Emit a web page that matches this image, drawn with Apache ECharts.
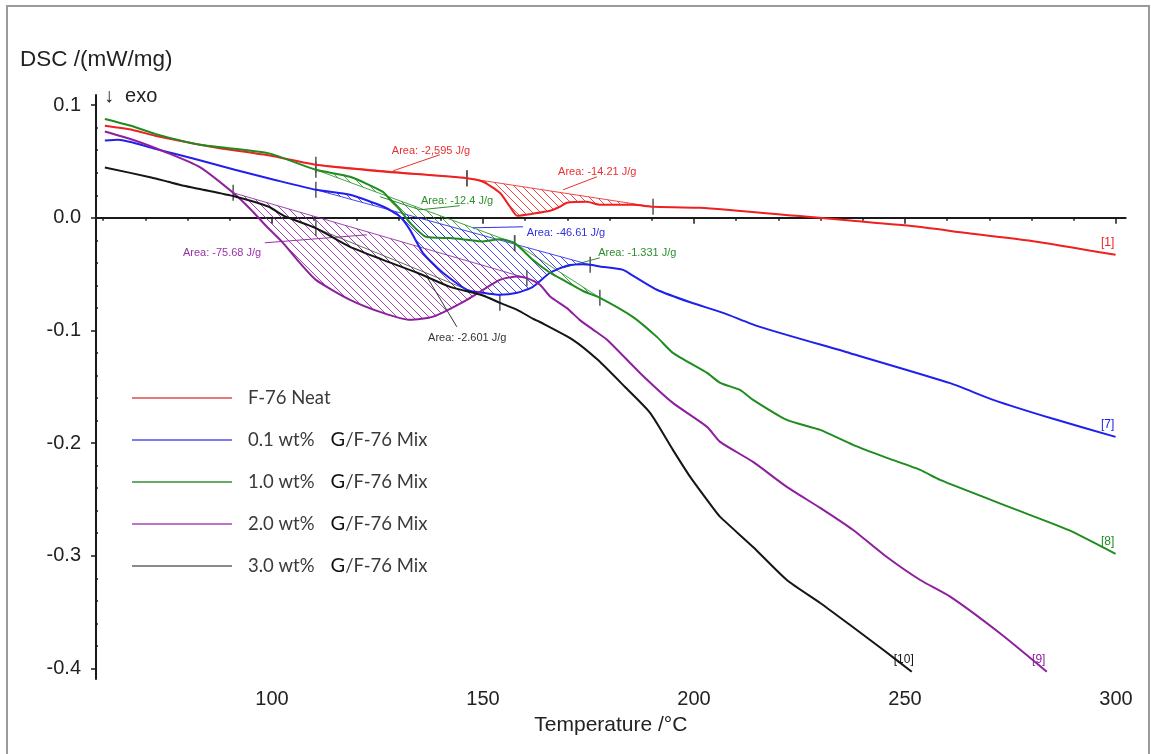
<!DOCTYPE html>
<html><head><meta charset="utf-8">
<script src="https://cdn.jsdelivr.net/npm/echarts@6/dist/echarts.min.js"></script>
<style>html,body{margin:0;padding:0;background:#fff}#c{width:1151px;height:754px}</style>
</head><body><div id="c"></div>
<script>
// ---------------- data ----------------
const seriesNames = ['F-76 Neat', '0.1 wt% G/F-76 Mix', '1.0 wt% G/F-76 Mix', '2.0 wt% G/F-76 Mix', '3.0 wt% G/F-76 Mix'];
const curveTags = ['[1]', '[7]', '[8]', '[9]', '[10]'];

const neatT = [60.4, 67.0, 72.3, 82.9, 87.3, 99.1, 110.4, 126.3, 146.2, 150.0, 154.0, 156.4, 158.1, 161.8, 165.9, 168.2, 169.9, 174.6, 177.7, 185.5, 190.3, 201.4, 225.0, 237.0, 252.8, 264.7, 280.0, 299.9];
const neatV = [0.0817, 0.078, 0.0728, 0.0648, 0.0619, 0.0555, 0.0471, 0.0411, 0.0352, 0.032, 0.0222, 0.0098, 0.0018, 0.0036, 0.0062, 0.0098, 0.0133, 0.0142, 0.0115, 0.0115, 0.0098, 0.0089, 0.0015, -0.0024, -0.0077, -0.0136, -0.0205, -0.0329];

const mix01T = [60.4, 63.6, 72.3, 82.0, 91.2, 100.5, 110.4, 118.5, 126.3, 130.3, 132.7, 135.8, 140.5, 146.2, 150.0, 154.0, 158.1, 161.8, 165.9, 169.9, 173.7, 175.4, 177.7, 183.2, 185.5, 191.2, 199.1, 206.9, 215.6, 237.0, 260.7, 270.9, 284.7, 299.9];
const mix01V = [0.0687, 0.0693, 0.0612, 0.052, 0.0426, 0.0338, 0.0249, 0.0204, 0.01, 0.0012, -0.0107, -0.0313, -0.0488, -0.0639, -0.0666, -0.0684, -0.0666, -0.0613, -0.0488, -0.0425, -0.0412, -0.0417, -0.0432, -0.0462, -0.0513, -0.0639, -0.075, -0.0844, -0.0968, -0.1202, -0.1468, -0.1616, -0.178, -0.1945];

const mix10T = [60.4, 67.0, 72.3, 83.0, 99.1, 110.4, 118.5, 126.3, 128.0, 130.3, 132.7, 136.5, 142.2, 146.2, 150.0, 154.0, 157.5, 161.8, 165.9, 169.9, 173.7, 177.7, 185.5, 191.2, 195.0, 203.1, 206.2, 210.9, 214.0, 222.0, 229.9, 237.7, 245.7, 253.6, 258.3, 276.5, 288.7, 299.9];
const mix10V = [0.0877, 0.0812, 0.0745, 0.0648, 0.0574, 0.0426, 0.0364, 0.0231, 0.016, 0.0071, -0.0044, -0.0169, -0.018, -0.0195, -0.021, -0.019, -0.0225, -0.0373, -0.0488, -0.057, -0.065, -0.071, -0.0879, -0.1057, -0.1199, -0.1377, -0.1465, -0.1528, -0.1616, -0.1794, -0.1883, -0.2016, -0.2131, -0.2238, -0.2327, -0.2593, -0.2771, -0.2984];

const mix20T = [60.4, 67.0, 75.0, 82.9, 90.8, 94.8, 98.8, 102.6, 106.6, 110.4, 118.5, 126.3, 132.7, 138.2, 146.2, 154.0, 158.1, 160.4, 163.5, 165.9, 169.9, 172.9, 176.0, 179.4, 187.2, 195.0, 203.1, 206.2, 214.0, 222.0, 229.9, 237.7, 245.7, 253.6, 260.7, 272.5, 283.6];
const mix20V = [0.0766, 0.0693, 0.058, 0.045, 0.0222, 0.008, -0.008, -0.0222, -0.04, -0.0551, -0.0728, -0.0844, -0.0906, -0.0877, -0.0728, -0.0551, -0.0521, -0.0536, -0.0595, -0.0699, -0.0802, -0.0906, -0.099, -0.1083, -0.1377, -0.1643, -0.1856, -0.1989, -0.2167, -0.2389, -0.2575, -0.2771, -0.3011, -0.3215, -0.3363, -0.3688, -0.4029];

const mix30T = [60.4, 71.4, 75.4, 79.1, 82.9, 91.2, 99.1, 103.1, 110.4, 118.5, 126.3, 134.4, 142.2, 150.0, 154.0, 158.1, 161.8, 163.5, 171.3, 177.2, 183.6, 189.6, 195.0, 199.1, 204.5, 206.2, 214.0, 222.0, 229.9, 237.0, 244.9, 251.6];
const mix30V = [0.0447, 0.0358, 0.032, 0.0285, 0.0255, 0.0189, 0.01, 0.0012, -0.0092, -0.0258, -0.0373, -0.0488, -0.0613, -0.069, -0.0755, -0.0817, -0.0895, -0.0925, -0.1083, -0.1261, -0.15, -0.1732, -0.206, -0.23, -0.2575, -0.2655, -0.2922, -0.3215, -0.3419, -0.3615, -0.3837, -0.4029];

// peak integration annotations
const areaCurve = [0, 0, 2, 2, 1, 3, 4];
const areaFrom = [110.4, 146.2, 110.4, 157.5, 110.4, 90.8, 110.4];
const areaTo = [146.2, 190.3, 157.5, 177.7, 175.4, 160.4, 154.0];
const areaText = ['Area: -2,595 J/g', 'Area: -14.21 J/g', 'Area: -12.4 J/g', 'Area: -1.331 J/g', 'Area: -46.61 J/g', 'Area: -75.68 J/g', 'Area: -2.601 J/g'];
const areaTextT = [128.4, 167.8, 135.3, 177.3, 160.4, 78.9, 137.0];
const areaTextV = [0.0595, 0.0409, 0.0151, -0.0311, -0.0133, -0.0311, -0.1066];
const areaLeaderT = [[128.7, 139.8], [169.0, 177.0], [125.6, 135.1, 144.5], [169.0, 177.7], [147.6, 159.5], [98.3, 122.5], [136.7, 143.8]];
const areaLeaderV = [[0.0417, 0.056], [0.0249, 0.0364], [0.0187, 0.0071, 0.0107], [-0.0444, -0.0355], [-0.0089, -0.008], [-0.0222, -0.0151], [-0.0524, -0.0968]];

// axis ticks
const xTickLabels = [100, 150, 200, 250, 300];
const xMinorTicks = [60, 70, 80, 90, 110, 120, 130, 140, 160, 170, 180, 190, 210, 220, 230, 240, 260, 270, 280, 290];
const yTickLabels = [-0.4, -0.3, -0.2, -0.1, 0.0, 0.1];
const yMinorTicks = [-0.38, -0.36, -0.34, -0.32, -0.28, -0.26, -0.24, -0.22, -0.18, -0.16, -0.14, -0.12, -0.08, -0.06, -0.04, -0.02, 0.02, 0.04, 0.06, 0.08];

// ---------------- styling ----------------
const curveT = [neatT, mix01T, mix10T, mix20T, mix30T];
const curveV = [neatV, mix01V, mix10V, mix20V, mix30V];
const colors = ['#ee2020', '#2020ee', '#1e8c1e', '#8e1f9e', '#151515'];
const legendColors = ['#e87878', '#7d7df0', '#6aa86a', '#bd72cc', '#8a8a8a'];
const hatchColors = ['rgba(235,40,40,0.85)', 'rgba(40,40,235,0.85)', 'rgba(30,140,30,0.8)', 'rgba(140,40,160,0.85)', 'rgba(70,70,70,0.8)'];
const labelColors = ['#e83030', '#3030e0', '#2a8f2a', '#9a30aa', '#333333'];
const FONT = '"Liberation Sans", Arial, sans-serif';

function hatch(color) {
  const c = document.createElement('canvas');
  c.width = 8; c.height = 8;
  const g = c.getContext('2d');
  g.strokeStyle = color; g.lineWidth = 1;
  g.beginPath();
  g.moveTo(0, 0); g.lineTo(8, 8);
  g.moveTo(-2, 6); g.lineTo(2, 10);
  g.moveTo(6, -2); g.lineTo(10, 2);
  g.stroke();
  return c;
}
const hatchCanvas = hatchColors.map(hatch);

const lineSeries = seriesNames.map((name, s) => ({
  name: name,
  type: 'line',
  xAxisIndex: 0, yAxisIndex: 0,
  data: curveT[s].map((t, k) => [t, curveV[s][k]]),
  showSymbol: false,
  smooth: 0.2,
  z: 3,
  lineStyle: { color: colors[s], width: 2 },
  itemStyle: { color: colors[s] },
  markPoint: {
    symbol: 'circle', symbolSize: 0, silent: true,
    label: { show: true, position: 'top', distance: 2, offset: [-8, -4], color: colors[s], fontSize: 12, fontFamily: FONT, formatter: curveTags[s] },
    data: [{ coord: [curveT[s][curveT[s].length - 1], curveV[s][curveV[s].length - 1]] }]
  }
}));

const areaSeries = {
  type: 'custom',
  xAxisIndex: 0, yAxisIndex: 0,
  z: 2,
  silent: true,
  data: areaFrom.map((f, i) => [f, curveV[areaCurve[i]][curveT[areaCurve[i]].indexOf(f)]]),
  encode: { x: 0, y: 1 },
  renderItem: function (params, api) {
    const i = params.dataIndex;
    const c = areaCurve[i];
    const T = curveT[c], V = curveV[c];
    const pts = [];
    for (let k = 0; k < T.length; k++) {
      if (T[k] >= areaFrom[i] - 1e-6 && T[k] <= areaTo[i] + 1e-6) pts.push(api.coord([T[k], V[k]]));
    }
    const a = pts[0], b = pts[pts.length - 1];
    const children = [
      { type: 'polygon', shape: { points: pts }, style: { fill: { image: hatchCanvas[c], repeat: 'repeat' }, stroke: null } },
      { type: 'line', shape: { x1: a[0], y1: a[1], x2: b[0], y2: b[1] }, style: { stroke: hatchColors[c], lineWidth: 1 } },
      { type: 'line', shape: { x1: a[0], y1: a[1] - 8, x2: a[0], y2: a[1] + 8 }, style: { stroke: '#555', lineWidth: 1.5 } },
      { type: 'line', shape: { x1: b[0], y1: b[1] - 8, x2: b[0], y2: b[1] + 8 }, style: { stroke: '#555', lineWidth: 1.5 } }
    ];
    const lp = areaLeaderT[i].map((t, k) => api.coord([t, areaLeaderV[i][k]]));
    children.push({ type: 'polyline', shape: { points: lp }, style: { stroke: labelColors[c], lineWidth: 1, fill: null } });
    const tp = api.coord([areaTextT[i], areaTextV[i]]);
    children.push({ type: 'text', x: tp[0], y: tp[1], style: { text: areaText[i], fill: labelColors[c], fontSize: 11, fontFamily: FONT, align: 'left', verticalAlign: 'middle' } });
    return { type: 'group', children: children };
  }
};

function legendFmt(name) {
  const i = name.indexOf('G/');
  if (i < 0) return '{s|}{t|' + name + '}';
  return '{s|}{t|' + name.slice(0, i).trim() + '}{sp|}{g|G}{t|' + name.slice(i + 1) + '}';
}

const xBase = { type: 'value', min: 58.3, max: 302.3, gridIndex: 0, position: 'bottom', splitLine: { show: false } };
const yBase = { type: 'value', min: -0.4094, max: 0.109, gridIndex: 0, position: 'left', splitLine: { show: false } };

const option = {
  backgroundColor: '#ffffff',
  animation: false,
  grid: { left: 96, right: 25.3, top: 95, bottom: 75, containLabel: false },
  xAxis: [
    Object.assign({}, xBase, {
      name: 'Temperature /°C', nameLocation: 'middle', nameGap: 36,
      nameTextStyle: { fontSize: 21, fontFamily: FONT, color: '#222' },
      axisLine: { show: true, lineStyle: { color: '#1a1a1a', width: 2 } },
      axisTick: { show: true, length: 6, customValues: xTickLabels, lineStyle: { color: '#1a1a1a', width: 1.5 } },
      axisLabel: { show: true, customValues: xTickLabels, margin: 10, fontSize: 20, fontFamily: FONT, color: '#222' }
    }),
    Object.assign({}, xBase, {
      axisLine: { show: false },
      axisTick: { show: true, length: 3, customValues: xMinorTicks, lineStyle: { color: '#1a1a1a', width: 1.5 } },
      axisLabel: { show: false }
    })
  ],
  yAxis: [
    Object.assign({}, yBase, {
      axisLine: { show: true, lineStyle: { color: '#1a1a1a', width: 2 } },
      axisTick: { show: true, length: 5, customValues: yTickLabels, lineStyle: { color: '#1a1a1a', width: 1.5 } },
      axisLabel: { show: true, customValues: yTickLabels, margin: 15, fontSize: 20, fontFamily: FONT, color: '#222', formatter: v => v.toFixed(1) }
    }),
    Object.assign({}, yBase, {
      axisLine: { show: false },
      axisTick: { show: true, inside: true, length: 2, customValues: yMinorTicks, lineStyle: { color: '#1a1a1a', width: 1.5 } },
      axisLabel: { show: false }
    })
  ],
  legend: {
    orient: 'vertical', left: 127, top: 382,
    icon: 'rect', itemWidth: 100, itemHeight: 2, itemGap: 20,
    selectedMode: false,
    data: seriesNames.map((n, s) => ({ name: n, itemStyle: { color: legendColors[s] } })),
    formatter: legendFmt,
    textStyle: {
      lineHeight: 22,
      rich: {
        s: { width: 11 },
        t: { fontFamily: 'Lato, "Open Sans", sans-serif', fontSize: 18.5, color: '#3a3a3a', lineHeight: 22 },
        sp: { width: 16 },
        g: { fontFamily: 'Lato, "Open Sans", sans-serif', fontSize: 20, color: '#111', lineHeight: 22 }
      }
    }
  },
  graphic: [
    { type: 'rect', z: 100, silent: true, shape: { x: 7, y: 6, width: 1142, height: 800 }, style: { fill: null, stroke: '#9a9a9a', lineWidth: 2 } },
    { type: 'text', left: 20, top: 48, style: { text: 'DSC /(mW/mg)', fontSize: 22.5, fontFamily: FONT, fill: '#222' } },
    { type: 'text', left: 104, top: 86, style: { text: '↓  exo', fontSize: 20, fontFamily: FONT, fill: '#222' } }
  ],
  series: [areaSeries].concat(lineSeries)
};

const chart = echarts.init(document.getElementById('c'));
chart.setOption(option);
</script>
</body></html>
